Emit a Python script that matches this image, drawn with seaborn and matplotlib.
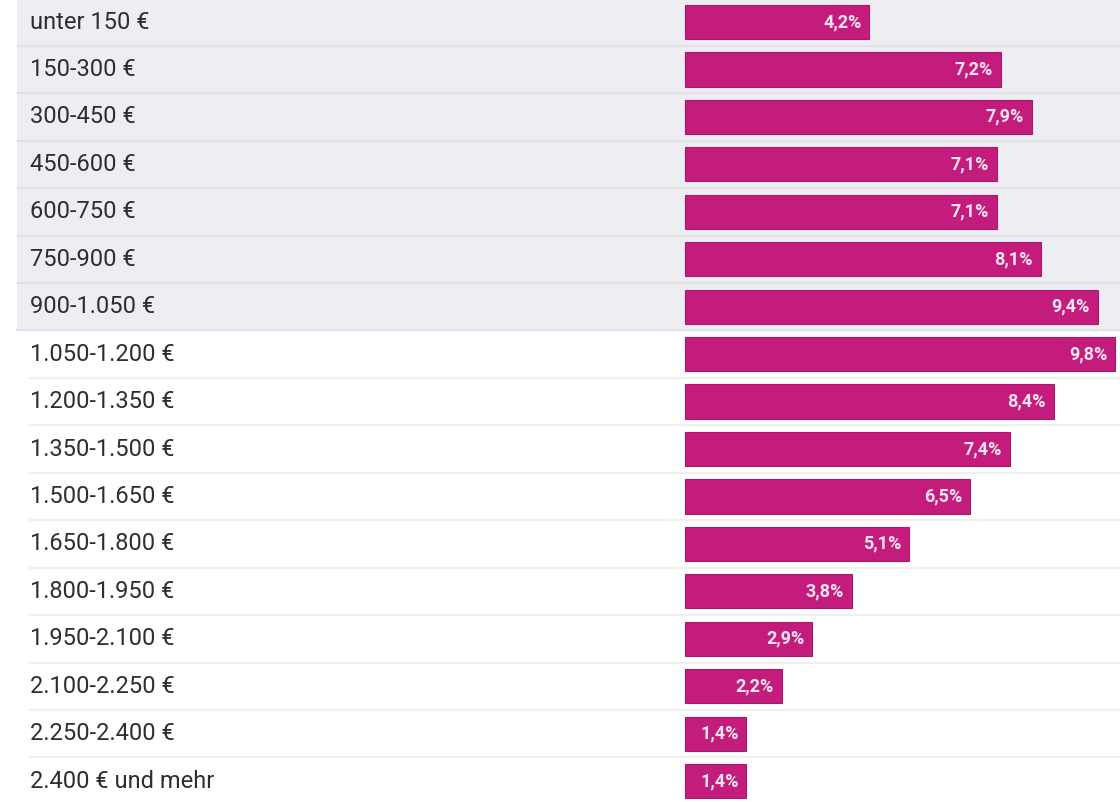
import matplotlib
matplotlib.use("Agg")
import matplotlib.pyplot as plt
import matplotlib.transforms as mtransforms
import seaborn as sns
import pandas as pd

categories = ["unter 150 €", "150-300 €", "300-450 €", "450-600 €", "600-750 €",
              "750-900 €", "900-1.050 €", "1.050-1.200 €", "1.200-1.350 €",
              "1.350-1.500 €", "1.500-1.650 €", "1.650-1.800 €", "1.800-1.950 €",
              "1.950-2.100 €", "2.100-2.250 €", "2.250-2.400 €", "2.400 € und mehr"]
values = [4.2, 7.2, 7.9, 7.1, 7.1, 8.1, 9.4, 9.8, 8.4, 7.4, 6.5, 5.1, 3.8, 2.9, 2.2, 1.4, 1.4]
value_labels = ["4,2%", "7,2%", "7,9%", "7,1%", "7,1%", "8,1%", "9,4%", "9,8%", "8,4%",
                "7,4%", "6,5%", "5,1%", "3,8%", "2,9%", "2,2%", "1,4%", "1,4%"]
shaded_rows = 7

sns.set_style("white")
plt.rcParams["font.family"] = ["Roboto", "DejaVu Sans"]

df = pd.DataFrame({"cat": categories, "val": values})

fig = plt.figure(figsize=(11.2, 8.02), dpi=100)
ax = fig.add_axes([0, 0, 1, 1])

W = 1120.0
x0_px = 685.0
px_per_unit = 43.9
ax.set_xlim(-x0_px / px_per_unit, (W - x0_px) / px_per_unit)

# row backgrounds
for i in range(len(categories)):
    if i < shaded_rows:
        ax.axhspan(i - 0.5, i + 0.5, xmin=17 / W, xmax=1, color="#EEEEF2", zorder=0, lw=0)
    ax.axhline(i + 0.5, xmin=17 / W if i < shaded_rows else 30 / W, xmax=1,
               color="#E2E2E7" if i < shaded_rows else "#F0F0F2", lw=1.6, zorder=0.5)

sns.barplot(data=df, x="val", y="cat", orient="h", color="#C41C7C", width=0.72,
            edgecolor="#A8186C", linewidth=0.8, saturation=1, ax=ax, zorder=2)

ax.set_ylim(16.44, -0.464)

trans = mtransforms.blended_transform_factory(ax.transAxes, ax.transData)
for i, (c, v, lab) in enumerate(zip(categories, values, value_labels)):
    ax.text(30 / W, i, c, transform=trans, ha="left", va="center",
            fontsize=17, color="#2E2E2E", zorder=3)
    ax.text(v - 0.18, i, lab, ha="right", va="center", fontsize=13,
            fontweight="bold", color="#F8E6F0", zorder=3)

ax.set_xlabel("")
ax.set_ylabel("")
ax.set_xticks([])
ax.set_yticks([])
for s in ax.spines.values():
    s.set_visible(False)

fig.savefig("out.png", dpi=100, facecolor="white")
